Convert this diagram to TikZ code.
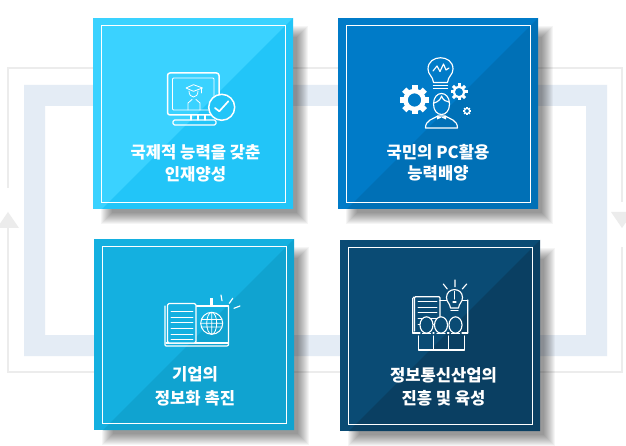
\documentclass[tikz,border=0pt]{standalone}
\usepackage{fontspec}
\newfontfamily\krfont{Noto Sans CJK KR}
\definecolor{bandblue}{HTML}{E4ECF5}
\definecolor{loopgray}{HTML}{ECECEC}
\definecolor{aL}{HTML}{3AD2FF}\definecolor{aD}{HTML}{22C5F8}
\definecolor{bL}{HTML}{007BC8}\definecolor{bD}{HTML}{0070B6}
\definecolor{cL}{HTML}{14B0E0}\definecolor{cD}{HTML}{10A3D0}
\definecolor{dL}{HTML}{0A4B74}\definecolor{dD}{HTML}{0A3F62}
\tikzset{
  x=1pt,y=-1pt,
  loopline/.style={draw=loopgray,line width=2pt},
  looptip/.style={fill=loopgray,draw=none},
  icon/.style={draw=white,line width=1.15pt,line join=round,line cap=round},
  iconthin/.style={draw=white,line width=.8pt,line join=round,line cap=round},
  framebox/.style={draw=white,line width=.8pt,fill=none,rectangle,inner sep=0pt},
  label/.style={text=white,font=\krfont\bfseries\fontsize{16.6}{23}\selectfont,align=center,inner sep=0pt},
}
% #1 name, #2 x0, #3 y0, #4 light, #5 dark
\newcommand{\cardbox}[5]{%
  \foreach \s in {0,1,...,11}{
    \fill[black,opacity=.04] (#2+8+\s,#3+8+\s) rectangle (#2+200+15-\s,#3+191+15-\s);
  }
  \node[rectangle,fill=#4,inner sep=0pt,minimum width=200pt,minimum height=191pt,anchor=north west] (#1) at (#2,#3) {};
  \fill[#5] (#2+200,#3) -- (#2+200,#3+191) -- (#2+9,#3+191) -- cycle;
  \node[framebox,minimum width=184pt,minimum height=177pt,anchor=north west] (#1f) at (#2+8,#3+7) {};
}
% x y outer-radius ring-width teeth-width
\newcommand{\gearicon}[5]{%
  \begin{scope}[shift={(#1,#2)}]
    \draw[white,line width=#4pt] (0,0) circle (#3*.62);
    \foreach \a in {0,45,...,315}{
      \fill[white,rotate=\a] (-#5/2,-#3) rectangle (#5/2,-#3*.6);
    }
  \end{scope}}
\begin{document}
\begin{tikzpicture}
\useasboundingbox (0,0) rectangle (626,446);
\fill[white] (0,0) rectangle (626,446);
% background band
\fill[bandblue,even odd rule] (24,85) rectangle (607,356) (45,106) rectangle (586,335);
% outer loop
\coordinate (tl) at (8,68);\coordinate (tr) at (622,68);\coordinate (bl) at (8,372);\coordinate (br) at (622,372);
\draw[loopline] (8,188) -- (tl) -- (tr) -- (622,202);
\draw[loopline] (8,228) -- (bl) -- (br) -- (622,247);
\fill[looptip] (8,212) -- (19,228) -- (-3,228) -- cycle;
\fill[looptip] (622,228) -- (611,212) -- (633,212) -- cycle;
% cards
\cardbox{a}{93}{18}{aL}{aD}
\cardbox{b}{338}{18}{bL}{bD}
\cardbox{c}{94}{239}{cL}{cD}
\cardbox{d}{340}{240}{dL}{dD}
% labels
\node[label] (la1) at (195.5,152) {국제적 능력을 갖춘};
\node[label] (la2) at (195.5,174) {인재양성};
\node[label] (lb1) at (438,152) {국민의 PC활용};
\node[label] (lb2) at (438,173) {능력배양};
\node[label] (lc1) at (195,374) {기업의};
\node[label] (lc2) at (195,398) {정보화 촉진};
\node[label] (ld1) at (443.5,375) {정보통신산업의};
\node[label] (ld2) at (443.5,398) {진흥 및 육성};
% icon 1: monitor
\draw[icon,line width=1.5pt,rounded corners=2.5pt] (167.5,73) rectangle (219,115);
\draw[iconthin,rounded corners=1pt] (172.5,78) rectangle (214,110);
\draw[icon] (191,115) -- (191,120) (198,115) -- (198,120) (205,115) -- (205,120);
\draw[icon,rounded corners=1.5pt] (173,120) rectangle (216,125);
\draw[iconthin] (186,88) -- (193.5,84.7) -- (202.5,88) -- (193.5,91.3) -- cycle;
\draw[iconthin] (201,88) -- (201,93);
\draw[iconthin] (189,91) .. controls (189,99) and (198,99) .. (198,91);
\draw[iconthin] (188,110) -- (188,103) -- (192,99.5) (200,110) -- (200,103) -- (196,99.5);
\fill[aD] (221.7,107.3) circle (13);
\draw[icon,line width=1.5pt] (221.7,107.3) circle (13);
\draw[icon,line width=1.7pt] (215,108) -- (219.3,111.3) -- (228.3,101.3);
% icon 2: bulb, gears and person
\draw[icon] (433.5,82.5) .. controls (433,76) and (428,75) .. (428,69) .. controls (428,54) and (453,54) .. (453,69) .. controls (453,75) and (448,76) .. (447.5,82.5) -- cycle;
\draw[icon] (433.5,85.5) -- (447.5,85.5) (433.5,88.5) -- (447.5,88.5);
\draw[icon] (433,71) -- (437,66) -- (440,71.5) -- (443.5,64) -- (446,70) -- (449,68);
\gearicon{414.5}{100}{14.5}{4.5}{6}
\gearicon{459}{92}{8.5}{2.2}{3}
\gearicon{467}{111}{4}{1}{1.5}
\draw[icon] (433.5,104) .. controls (433.5,90) and (449.5,90) .. (449.5,104) .. controls (449.5,118) and (433.5,118) .. (433.5,104) -- cycle;
\draw[icon] (434,103) .. controls (438,102) and (441,99) .. (441.5,96) .. controls (443,100) and (446,102) .. (449,102);
\draw[icon] (425.5,128) .. controls (425.5,120) and (433,119) .. (438,116) -- (445,116) .. controls (450,119) and (457.5,120) .. (457.5,128) -- cycle;
\fill[white] (437,115.5) -- (441.5,117.5) -- (446,115.5) -- (446,119.5) -- (441.5,117.5) -- (437,119.5) -- cycle;
% icon 3: book with globe
\draw[icon] (165,306) -- (165,345) .. controls (165,346) and (165,346) .. (166,346) -- (227,346) .. controls (228,346) and (228.5,346) .. (228.5,345) -- (228.5,306);
\draw[icon] (196,306) -- (228.5,306);
\draw[icon] (196,343) -- (228.5,343) (166,343) -- (196,343);
\draw[icon,fill=cL,rounded corners=1.5pt] (167.5,303.5) rectangle (196,343);
\foreach \ly in {311.5,317,322.5,328.5,334,339.5}{\draw[iconthin,line width=.9pt] (171,\ly) -- (193,\ly);}
\draw[icon,line width=3.2pt,line cap=butt] (211.5,298) -- (211.5,306);
\draw[iconthin,line width=1pt] (211.7,323.3) circle (11);
\draw[iconthin] (211.7,323.3) ellipse (5 and 11) (211.7,312.3) -- (211.7,334.3) (201.3,319.5) -- (222,319.5) (201.3,327) -- (222,327) (200.7,323.3) -- (222.7,323.3);
\draw[icon] (221,295) -- (222,300.7) (232.7,298.3) -- (229.3,303.3) (240,306) -- (234,308.3);
% icon 4: document, bulb and people
\draw[icon] (414,297) -- (412.7,298.5) -- (412.7,333) (467.7,300) -- (467.7,333);
\draw[icon,rounded corners=1pt] (414.5,331) -- (414.5,296.7) -- (440,296.7) -- (440,331);
\draw[icon] (440,300.5) -- (447,300.5) (461,300.5) -- (467.7,300.5);
\foreach \ly in {301.7,307.3,312.7,318.3,324}{\draw[iconthin,line width=.9pt] (418,\ly) -- (437,\ly);}
\draw[icon,fill=dL] (450.5,308) .. controls (450,303) and (446.5,302.5) .. (446.5,297.5) .. controls (446.5,287) and (462.5,287) .. (462.5,297.5) .. controls (462.5,302.5) and (459,303) .. (458.5,308) -- cycle;
\draw[icon] (451,310.5) -- (458,310.5);
\draw[icon] (454.5,291.5) -- (454.5,299) (453,302) -- (456,302);
\draw[icon] (455,280) -- (455,286.7) (443.3,284) -- (447.3,289) (466.7,284) -- (462.3,289);
\draw[icon] (412.7,333) -- (420,333) (433,333) -- (434,333) (447.5,333) -- (449,333) (462,333) -- (467.7,333);
\foreach \hx in {426.5,441,455.5}{
  \draw[icon,fill=dL] (\hx,325) ellipse (6.5 and 8.2);
  \draw[icon] (\hx-4,333.5) -- (\hx+4,333.5);
}
\draw[icon] (418.5,336) -- (418.5,350) -- (464.3,350) -- (464.3,336) (433.5,336) -- (433.5,350) (448.7,336) -- (448.7,350);
\end{tikzpicture}
\end{document}
